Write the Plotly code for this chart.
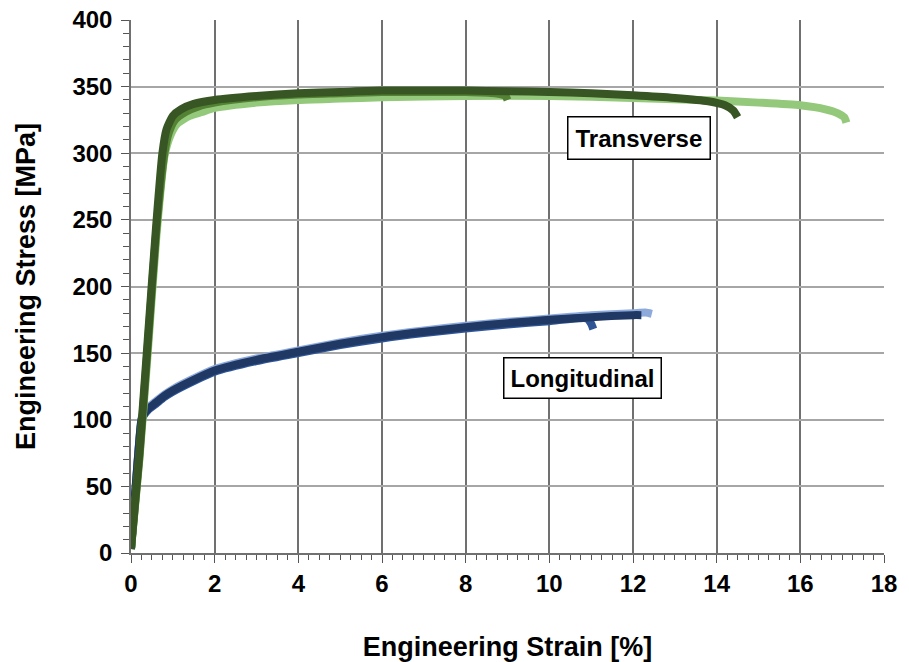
import plotly.graph_objects as go

# Transverse specimens (strain %, stress MPa)
t_light_strain = [0, 0.2, 0.4, 0.6, 0.8, 0.95, 1.1, 1.4, 1.7, 2, 3, 4, 5, 6, 8, 10, 12, 14, 15, 16, 16.6, 16.9, 17.05, 17.1]
t_light_stress = [3, 70, 150, 235, 298, 314, 322, 328, 331, 334, 338, 340, 341, 342, 343, 343, 341.5, 339.5, 338, 336, 333, 330, 327, 323]

t_mid_strain = [0, 0.2, 0.4, 0.6, 0.8, 0.9, 1.05, 1.3, 1.6, 2, 3, 4, 5, 6, 7, 8, 8.7, 8.95, 9.0]
t_mid_stress = [3, 72, 155, 240, 300, 315, 325, 331, 335, 338, 342, 344, 345, 346, 346, 346, 345, 343, 340]

t_dark_strain = [0, 0.2, 0.4, 0.6, 0.75, 0.85, 1.0, 1.2, 1.5, 2, 3, 4, 5, 6, 7, 8, 9, 10, 11, 12, 13, 13.8, 14.2, 14.4, 14.5]
t_dark_stress = [3, 75, 160, 245, 300, 318, 328, 333, 337, 340, 343, 345, 346, 347, 347, 347, 346.5, 346, 345, 343.5, 341.5, 339, 336, 332, 327]

# Longitudinal specimens
l_light_strain = [0, 0.1, 0.2, 0.25, 0.3, 0.4, 0.6, 0.8, 1.0, 1.5, 2, 3, 4, 5, 6, 7, 8, 9, 10, 11, 12, 12.3, 12.45]
l_light_stress = [3, 45, 86, 101, 105, 109, 114, 119, 123, 131, 138, 146, 152, 158, 163, 167, 170.5, 173.5, 176, 178.5, 180, 180.5, 179.5]

l_mid_strain = [0, 0.1, 0.2, 0.25, 0.3, 0.4, 0.6, 0.8, 1.0, 1.5, 2, 3, 4, 5, 6, 7, 8, 9, 10, 10.9, 11.0, 11.05]
l_mid_stress = [3, 44, 84, 99, 103, 107, 112, 117, 121, 129, 136, 144, 150, 156, 161, 165, 168.5, 171.5, 174, 176, 172, 168]

l_dark_strain = [0, 0.1, 0.2, 0.25, 0.3, 0.4, 0.6, 0.8, 1.0, 1.5, 2, 3, 4, 5, 6, 7, 8, 9, 10, 11, 12, 12.2]
l_dark_stress = [3, 45, 85, 100, 104, 108, 113, 118, 122, 130, 137, 145, 151, 157, 162, 166, 169.5, 172.5, 175, 177, 178.5, 178.5]

x_ticks = [0, 2, 4, 6, 8, 10, 12, 14, 16, 18]
y_ticks = [0, 50, 100, 150, 200, 250, 300, 350, 400]

FONT = "Liberation Sans, Arial, sans-serif"
LW = 8

fig = go.Figure()

series = [
    (l_light_strain, l_light_stress, "#8eaadb"),
    (l_mid_strain, l_mid_stress, "#2f5597"),
    (l_dark_strain, l_dark_stress, "#1f3864"),
    (t_light_strain, t_light_stress, "#94c97c"),
    (t_mid_strain, t_mid_stress, "#548235"),
    (t_dark_strain, t_dark_stress, "#375623"),
]
for xs, ys, c in series:
    fig.add_trace(go.Scatter(x=xs, y=ys, mode="lines",
                             line=dict(color=c, width=LW, shape="spline", smoothing=0.6),
                             showlegend=False, hoverinfo="skip"))

fig.add_annotation(x=12.14, y=311.5, text="<b>Transverse</b>", showarrow=False,
                   font=dict(family=FONT, size=24, color="black"),
                   bgcolor="white", bordercolor="black", borderwidth=1.5, borderpad=7)
fig.add_annotation(x=10.8, y=131, text="<b>Longitudinal</b>", showarrow=False,
                   font=dict(family=FONT, size=24, color="black"),
                   bgcolor="white", bordercolor="black", borderwidth=1.5, borderpad=6)

fig.update_layout(
    width=909, height=662,
    margin=dict(l=131, r=25, t=20, b=109),
    paper_bgcolor="white", plot_bgcolor="white",
    font=dict(family=FONT, size=24, color="black"),
)
fig.update_xaxes(
    range=[0, 18], tickvals=x_ticks, ticktext=[str(v) for v in x_ticks],
    showgrid=True, gridcolor="#707070", gridwidth=1.5,
    showline=True, linecolor="#707070", linewidth=1.5,
    ticks="outside", ticklen=8, tickcolor="#555555", tickwidth=1.2,
    minor=dict(dtick=0.25, ticks="outside", ticklen=5, tickcolor="#555555", tickwidth=1, showgrid=False),
    tickfont=dict(family=FONT, size=24, color="black", weight="bold"),
    title=dict(text="<b>Engineering Strain [%]</b>", font=dict(family=FONT, size=27, color="black"), standoff=46),
    zeroline=False, automargin=False,
)
fig.update_yaxes(
    range=[0, 400], tickvals=y_ticks, ticktext=[str(v) for v in y_ticks],
    showgrid=True, gridcolor="#a6a6a6", gridwidth=1.5,
    showline=True, linecolor="#707070", linewidth=1.5,
    ticks="outside", ticklen=8, tickcolor="#555555", tickwidth=1.2,
    minor=dict(dtick=10, ticks="outside", ticklen=6, tickcolor="#555555", tickwidth=1, showgrid=False),
    tickfont=dict(family=FONT, size=24, color="black", weight="bold"),
    ticklabelstandoff=4,
    title=dict(text="<b>Engineering Stress [MPa]</b>", font=dict(family=FONT, size=27, color="black"), standoff=29),
    zeroline=False, automargin=False,
)

fig.write_html("out.html")
